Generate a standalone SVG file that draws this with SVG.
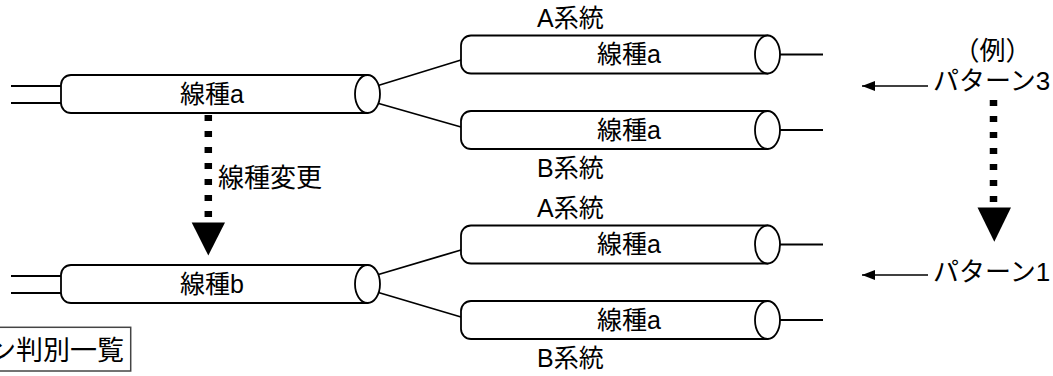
<svg xmlns="http://www.w3.org/2000/svg" width="1053" height="376" viewBox="0 0 1053 376">
<style>
  text { font-family: 'Liberation Sans', 'Noto Sans CJK JP', sans-serif; font-size: 25px; fill: #000; }
  .mid { text-anchor: middle; }
  .big { font-size: 26px; }
  .ln { stroke: #000; stroke-width: 1.8; fill: none; }
  .body { stroke: #000; stroke-width: 1.8; fill: #fff; }
  .dots { stroke: #000; stroke-width: 7.5; stroke-dasharray: 6 10; fill: none; }
  .thin { stroke: #000; stroke-width: 1.6; fill: none; }
</style>
<defs>
  <g id="cable">
    <path class="body" d="M306.5,-19 H10 A10,10 0 0 0 0,-9 V9 A10,10 0 0 0 10,19 H306.5 Z"/>
    <ellipse class="body" cx="306.5" cy="0" rx="12.5" ry="19"/>
  </g>
  <marker id="ah" markerWidth="14" markerHeight="10" refX="13" refY="5" orient="auto" markerUnits="userSpaceOnUse">
    <path d="M0,0 L13,5 L0,10 Z" fill="#000"/>
  </marker>
</defs>
<rect width="1053" height="376" fill="#fff"/>

<g id="connectors">
  <line class="ln" x1="11" y1="86" x2="61" y2="86"/>
  <line class="ln" x1="11" y1="103" x2="61" y2="103"/>
  <line class="ln" x1="11" y1="276" x2="61" y2="276"/>
  <line class="ln" x1="11" y1="293" x2="61" y2="293"/>
  <line class="ln" x1="370" y1="88" x2="461" y2="60"/>
  <line class="ln" x1="370" y1="101" x2="461" y2="127"/>
  <line class="ln" x1="370" y1="277" x2="461" y2="250"/>
  <line class="ln" x1="370" y1="290" x2="461" y2="317"/>
  <line class="ln" x1="770" y1="54.5" x2="823" y2="54.5"/>
  <line class="ln" x1="770" y1="130" x2="823" y2="130"/>
  <line class="ln" x1="770" y1="244.5" x2="823" y2="244.5"/>
  <line class="ln" x1="770" y1="320" x2="823" y2="320"/>
  <line class="dots" x1="208.3" y1="115" x2="208.3" y2="218"/>
  <path d="M191.7,222.5 L225,222.5 L208.3,255.5 Z" fill="#000"/>
  <line class="dots" x1="993.5" y1="100" x2="993.5" y2="203"/>
  <path d="M977.5,207.5 L1011,207.5 L994.3,241.7 Z" fill="#000"/>
  <line class="thin" x1="928" y1="86" x2="862" y2="86" marker-end="url(#ah)"/>
  <line class="thin" x1="928" y1="275" x2="862" y2="275" marker-end="url(#ah)"/>
</g>

<g id="cable-top-main">
  <use href="#cable" transform="translate(61,94)"/>
  <text class="mid" x="212" y="103">線種a</text>
</g>
<g id="cable-top-A">
  <use href="#cable" transform="translate(461,54.5)"/>
  <text class="mid" x="629" y="63">線種a</text>
  <text x="537" y="27">A系統</text>
</g>
<g id="cable-top-B">
  <use href="#cable" transform="translate(461,130)"/>
  <text class="mid" x="629" y="139">線種a</text>
  <text x="537" y="177">B系統</text>
</g>
<g id="change-label">
  <text class="big" x="218" y="187">線種変更</text>
</g>
<g id="cable-bottom-main">
  <use href="#cable" transform="translate(61,284)"/>
  <text class="mid" x="212" y="293">線種b</text>
</g>
<g id="cable-bottom-A">
  <use href="#cable" transform="translate(461,244.5)"/>
  <text class="mid" x="629" y="253">線種a</text>
  <text x="537" y="217">A系統</text>
</g>
<g id="cable-bottom-B">
  <use href="#cable" transform="translate(461,320)"/>
  <text class="mid" x="629" y="329">線種a</text>
  <text x="537" y="367">B系統</text>
</g>
<g id="example">
  <text class="mid big" x="992.5" y="60">（例）</text>
  <text class="big" x="933" y="90">パターン3</text>
  <text class="big" x="933" y="281">パターン1</text>
</g>
<g id="title-box">
  <rect x="-5" y="327.3" width="135.7" height="43.7" fill="#fff" stroke="#444" stroke-width="1.5"/>
  <text x="124" y="360" style="text-anchor:end;font-size:27px">ン判別一覧</text>
</g>
</svg>
